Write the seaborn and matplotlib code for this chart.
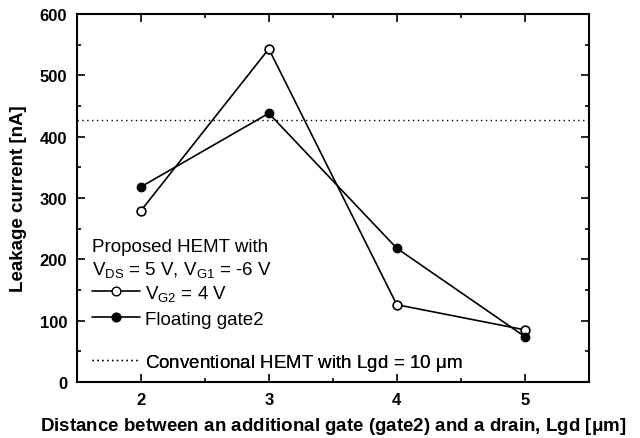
import numpy as np
import pandas as pd
import matplotlib
matplotlib.use('Agg')
import matplotlib.pyplot as plt
from matplotlib.lines import Line2D
from matplotlib.ticker import MultipleLocator
import seaborn as sns

# data
lgd = [2, 3, 4, 5]
vg2_4v = [279, 543, 126, 85]
floating = [318, 438, 218, 74]
conventional = 427

sns.set_style("ticks", {'axes.edgecolor': 'black', 'text.color': 'black',
                        'axes.labelcolor': 'black', 'xtick.color': 'black',
                        'ytick.color': 'black'})
plt.rcParams['font.family'] = ['Liberation Sans', 'DejaVu Sans']
plt.rcParams['mathtext.fontset'] = 'custom'
plt.rcParams['mathtext.rm'] = 'Liberation Sans'
plt.rcParams['mathtext.it'] = 'Liberation Sans'
plt.rcParams['mathtext.bf'] = 'Liberation Sans:bold'

df = pd.DataFrame({'Lgd': lgd * 2,
                   'I': vg2_4v + floating,
                   'kind': ['open'] * 4 + ['filled'] * 4})

fig = plt.figure(figsize=(6.4, 4.39), dpi=100)
ax = fig.add_axes([0.120, 0.1276, 0.80, 0.8384])

ms = 6.3
sns.lineplot(data=df[df.kind == 'open'], x='Lgd', y='I', ax=ax, color='black',
             lw=1.2, marker='o', markersize=ms, markerfacecolor='white',
             markeredgecolor='black', markeredgewidth=1.2)
sns.lineplot(data=df[df.kind == 'filled'], x='Lgd', y='I', ax=ax, color='black',
             lw=1.2, marker='o', markersize=ms, markerfacecolor='black',
             markeredgecolor='black')
ax.axhline(conventional, color='black', ls=(0, (1, 2.5)), lw=1)

ax.set_xlim(1.5, 5.5)
ax.set_ylim(0, 600)
ax.xaxis.set_major_locator(MultipleLocator(1))
ax.xaxis.set_minor_locator(MultipleLocator(0.5))
ax.yaxis.set_major_locator(MultipleLocator(100))
ax.yaxis.set_minor_locator(MultipleLocator(50))
ax.tick_params(which='both', direction='in', top=True, right=True, width=1.2, colors='black')
ax.tick_params(which='major', length=6, labelsize=12, pad=7)
ax.tick_params(which='minor', length=3)
for lab in ax.get_xticklabels() + ax.get_yticklabels():
    lab.set_fontweight('bold')
for s in ax.spines.values():
    s.set_linewidth(1.5)
    s.set_color('black')

ax.set_xlabel('Distance between an additional gate (gate2) and a drain, Lgd [$\\mathbf{\\mu}$m]',
              fontsize=13.5, fontweight='bold', labelpad=6, color='black')
ax.set_ylabel('Leakage current [nA]', fontsize=13.5, fontweight='bold', labelpad=9,
              color='black')

fs = 13.5
ax.text(0.029, 0.367, 'Proposed HEMT with', transform=ax.transAxes, fontsize=fs,
        va='center', color='black')
ax.text(0.029, 0.307, 'V$_{\\rm DS}$ = 5 V, V$_{\\rm G1}$ = -6 V', transform=ax.transAxes,
        fontsize=fs, va='center', color='black')

h1 = Line2D([], [], color='black', lw=1.2, marker='o', markersize=ms,
            markerfacecolor='white', markeredgecolor='black')
h2 = Line2D([], [], color='black', lw=1.2, marker='o', markersize=ms,
            markerfacecolor='black', markeredgecolor='black')
h3 = Line2D([], [], color='black', ls=(0, (1, 2.5)), lw=1)
entries = [(h1, 'V$_{\\rm G2}$ = 4 V', 0.242),
           (h2, 'Floating gate2', 0.171),
           (h3, 'Conventional HEMT with Lgd = 10 $\\mu$m', 0.054)]
for h, lab, yy in entries:
    leg = ax.legend([h], [lab], loc='center left', bbox_to_anchor=(0.029, yy),
                    frameon=False, fontsize=fs, handlelength=2.6, handletextpad=0.25,
                    borderaxespad=0, borderpad=0, labelcolor='black')
    ax.add_artist(leg)

fig.savefig('out.png', dpi=100)
